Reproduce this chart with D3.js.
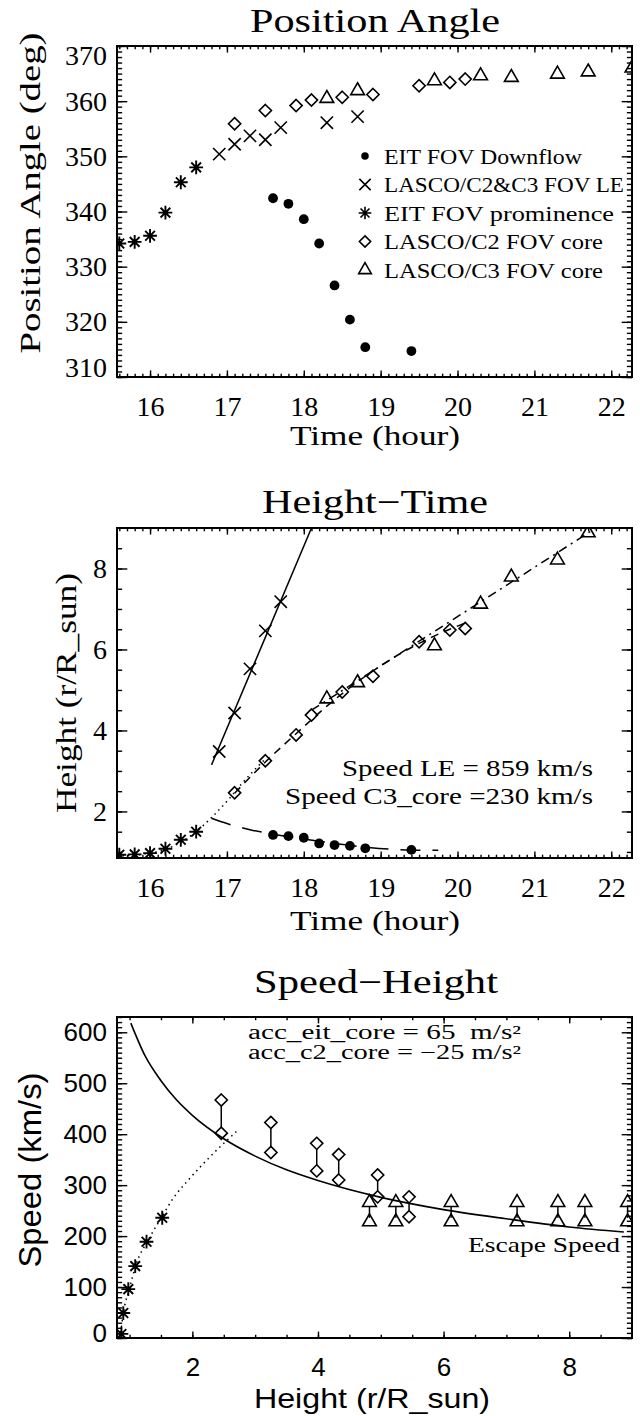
<!DOCTYPE html>
<html lang="en">
  <head>
    <meta charset="UTF-8" />
    <title>CME kinematics</title>
    <style>
      body { margin: 0; background: #fff; }
      svg { display: block; }
    </style>
  </head>
  <body>
    <svg id="chart" width="640" height="1416"></svg>
    <script src="https://cdn.jsdelivr.net/npm/d3@7"></script>
    <script>
      // ---- panel 1: position angle (deg) vs time (hour)
      const timeDown = [17.6, 17.8, 18.0, 18.2, 18.4, 18.6, 18.8, 19.4];
      const paDown = [342.4, 341.4, 338.6, 334.2, 326.6, 320.4, 315.4, 314.7];
      const timeLE = [16.9, 17.1, 17.3, 17.5, 17.7, 18.3, 18.7];
      const paLE = [350.4, 352.2, 353.7, 353.0, 355.2, 356.1, 357.2];
      const timeProm = [15.6, 15.8, 16.0, 16.2, 16.4, 16.6];
      const paProm = [334.2, 334.5, 335.6, 339.8, 345.3, 348.0];
      const timeC2 = [17.1, 17.5, 17.9, 18.1, 18.5, 18.9, 19.5, 19.9, 20.1];
      const paC2 = [355.9, 358.3, 359.2, 360.2, 360.7, 361.2, 362.8, 363.4, 364.0];
      const timeC3 = [18.3, 18.7, 19.7, 20.3, 20.7, 21.3, 21.7, 22.27];
      const paC3 = [360.5, 361.9, 363.7, 364.6, 364.3, 364.9, 365.3, 366.0];
      const legendLabels = ['EIT FOV Downflow', 'LASCO/C2&C3 FOV LE', 'EIT FOV prominence', 'LASCO/C2 FOV core', 'LASCO/C3 FOV core'];

      // ---- panel 2: height (r/R_sun) vs time
      const hDown = [1.42, 1.39, 1.35, 1.21, 1.17, 1.15, 1.09, 1.05];
      const hLE = [3.48, 4.43, 5.52, 6.46, 7.18, 10.9, 12.7];
      const hProm = [0.93, 0.94, 0.97, 1.08, 1.3, 1.5];
      const hC2 = [2.46, 3.25, 3.89, 4.38, 4.95, 5.34, 6.19, 6.48, 6.52];
      const hC3 = [4.78, 5.18, 6.09, 7.12, 7.79, 8.21, 8.88, 9.6];
      const fitLE_t = [16.8, 18.1];
      const fitLE_h = [3.15, 9.0];
      const fitEit_t = [15.57, 15.8, 16.0, 16.2, 16.4, 16.6, 16.8, 17.0, 17.2, 17.5];
      const fitEit_h = [0.9, 0.92, 0.97, 1.06, 1.24, 1.5, 1.85, 2.25, 2.7, 3.3];
      const fitC2_t = [17.1, 17.5, 17.9, 18.3, 18.7, 19.1, 19.5, 19.9, 20.1];
      const fitC2_h = [2.45, 3.22, 3.92, 4.6, 5.2, 5.72, 6.15, 6.5, 6.65];
      const fitC3_t = [18.1, 21.8];
      const fitC3_h = [4.5, 9.0];
      const fitDown_t = [16.8, 17.0, 17.3, 17.6, 18.0, 18.4, 18.8, 19.2, 19.5, 19.75];
      const fitDown_h = [1.83, 1.7, 1.55, 1.44, 1.32, 1.21, 1.12, 1.06, 1.04, 1.04];

      // ---- panel 3: speed (km/s) vs height
      const hPromS = [0.87, 0.9, 0.98, 1.09, 1.27, 1.52];
      const vPromS = [8, 49, 96, 141, 189, 236];
      const hC2S = [2.46, 3.25, 3.98, 4.33, 4.95, 5.45];
      const vC2Top = [467, 423, 382, 360, 320, 277];
      const vC2Bot = [402, 364, 328, 310, 277, 238];
      const hC3S = [4.82, 5.24, 6.12, 7.17, 7.82, 8.25, 8.93];
      const vC3Top = [266, 266, 266, 266, 266, 266, 266];
      const vC3Bot = [228, 228, 228, 228, 228, 228, 228];
      const escH = [1.02, 1.25, 1.5, 1.75, 2.0, 2.5, 3.0, 3.5, 4.0, 5.0, 6.0, 7.0, 8.0, 8.87];
      const escV = [618, 553, 505, 467, 437, 391, 357, 330, 309, 276, 252, 234, 218, 208];
      const eitSpeedH = [0.85, 0.9, 1.0, 1.1, 1.3, 1.5, 1.7, 1.95, 2.3, 2.7];
      const eitSpeedV = [0, 48, 98, 143, 193, 235, 275, 312, 358, 405];

      const timeTicks = [16, 17, 18, 19, 20, 21, 22];
      const paTicks = [310, 320, 330, 340, 350, 360, 370];
      const heightTicks = [2, 4, 6, 8];
      const speedTicks = [0, 100, 200, 300, 400, 500, 600];

      const serif = '"Liberation Serif", "Times New Roman", serif';
      const sans = '"Liberation Sans", Arial, sans-serif';
      const svg = d3.select('#chart');
      svg.append('rect').attr('width', 640).attr('height', 1416).attr('fill', '#fff');

      const star = {
        draw(ctx, size) {
          const r = Math.sqrt(size) / 2, d = r * 0.7071;
          ctx.moveTo(-r, 0); ctx.lineTo(r, 0);
          ctx.moveTo(0, -r); ctx.lineTo(0, r);
          ctx.moveTo(-d, -d); ctx.lineTo(d, d);
          ctx.moveTo(-d, d); ctx.lineTo(d, -d);
        },
      };
      const SYM = {
        dot: { type: d3.symbolCircle, size: 75, fill: true },
        cross: { type: d3.symbolTimes, size: 100 },
        star: { type: star, size: 190 },
        diamond: { type: d3.symbolDiamond2, size: 95 },
        tri: { type: d3.symbolTriangle2, size: 135 },
      };

      function txt(g, s, x, y, o) {
        const t = g.append('text')
          .attr('x', x).attr('y', y)
          .attr('font-family', o.family || serif)
          .attr('font-size', o.size)
          .attr('text-anchor', o.anchor || 'middle')
          .attr('xml:space', 'preserve')
          .text(s);
        if (o.len) t.attr('textLength', o.len).attr('lengthAdjust', 'spacingAndGlyphs');
        if (o.rotate) t.attr('transform', `rotate(-90,${x},${y})`);
        return t;
      }

      function panel(o) {
        const x = d3.scaleLinear().domain(o.xDomain).range([117, 632]);
        const y = d3.scaleLinear().domain(o.yDomain).range([o.bottom, o.top]);
        const g = svg.append('g');
        const w = 515, h = o.bottom - o.top;
        const xLen = 0.02 * h, yLen = 0.02 * w;

        const clipId = 'clip-' + o.name;
        svg.append('clipPath').attr('id', clipId).append('rect')
          .attr('x', 117).attr('y', o.top).attr('width', w).attr('height', h);

        const style = (sel) => {
          sel.select('.domain').remove();
          sel.selectAll('line').attr('stroke-width', 1.4);
          sel.selectAll('text').attr('font-family', o.tickFont).attr('font-size', o.tickSize);
        };
        g.append('g').attr('transform', `translate(0,${o.bottom})`)
          .call(d3.axisBottom(x).tickValues(o.xTicks).tickSizeInner(-xLen).tickSizeOuter(0)
            .tickPadding(o.xPad).tickFormat(d3.format('d')))
          .call(style);
        g.append('g').attr('transform', `translate(0,${o.bottom})`)
          .call(d3.axisBottom(x).tickValues(o.xMinor).tickSizeInner(-xLen / 2).tickSizeOuter(0).tickFormat(''))
          .call(style);
        g.append('g').attr('transform', `translate(0,${o.top})`)
          .call(d3.axisTop(x).tickValues(o.xTicks).tickSizeInner(-xLen).tickSizeOuter(0).tickFormat(''))
          .call(style);
        g.append('g').attr('transform', `translate(0,${o.top})`)
          .call(d3.axisTop(x).tickValues(o.xMinor).tickSizeInner(-xLen / 2).tickSizeOuter(0).tickFormat(''))
          .call(style);
        const yl = g.append('g').attr('transform', 'translate(117,0)')
          .call(d3.axisLeft(y).tickValues(o.yTicks).tickSizeInner(-yLen).tickSizeOuter(0)
            .tickPadding(10).tickFormat(d3.format('d')))
          .call(style);
        // end labels sit a little inside the frame, as in the original
        yl.selectAll('.tick text').attr('transform', (d) => (o.yNudge && o.yNudge[d] ? `translate(0,${o.yNudge[d]})` : null));
        g.append('g').attr('transform', 'translate(117,0)')
          .call(d3.axisLeft(y).tickValues(o.yMinor).tickSizeInner(-yLen / 2).tickSizeOuter(0).tickFormat(''))
          .call(style);
        g.append('g').attr('transform', 'translate(632,0)')
          .call(d3.axisRight(y).tickValues(o.yTicks).tickSizeInner(-yLen).tickSizeOuter(0).tickFormat(''))
          .call(style);
        g.append('g').attr('transform', 'translate(632,0)')
          .call(d3.axisRight(y).tickValues(o.yMinor).tickSizeInner(-yLen / 2).tickSizeOuter(0).tickFormat(''))
          .call(style);
        g.append('rect').attr('x', 117).attr('y', o.top).attr('width', w).attr('height', h)
          .attr('fill', 'none').attr('stroke', '#000').attr('stroke-width', 2);

        const data = g.append('g').attr('clip-path', `url(#${clipId})`);
        return { x, y, g, data };
      }

      function marks(p, xs, ys, key) {
        const s = SYM[key];
        p.data.append('g').selectAll('path')
          .data(xs.map((v, i) => [v, ys[i]]))
          .join('path')
          .attr('transform', (d) => `translate(${p.x(d[0])},${p.y(d[1])})`)
          .attr('d', d3.symbol(s.type, s.size))
          .attr('fill', s.fill ? '#000' : 'none')
          .attr('stroke', s.fill ? 'none' : '#000')
          .attr('stroke-width', key === 'star' ? 1.9 : 1.6);
      }

      function curve(p, xs, ys, dash, width) {
        p.data.append('path')
          .datum(xs.map((v, i) => [v, ys[i]]))
          .attr('d', d3.line().x((d) => p.x(d[0])).y((d) => p.y(d[1])).curve(d3.curveMonotoneX))
          .attr('fill', 'none').attr('stroke', '#000')
          .attr('stroke-width', width || 1.5)
          .attr('stroke-dasharray', dash || null);
      }

      const timeMinor = d3.range(156, 223).map((v) => v / 10);

      // ---------- Position Angle
      const p1 = panel({
        name: 'pa', top: 46, bottom: 377,
        xDomain: [15.57, 22.27], yDomain: [310, 370],
        xTicks: timeTicks, xMinor: timeMinor, xPad: 19,
        yTicks: paTicks, yMinor: d3.range(310, 371),
        yNudge: { 370: 10, 310: -9 }, tickFont: serif, tickSize: 28,
      });
      marks(p1, timeDown, paDown, 'dot');
      marks(p1, timeLE, paLE, 'cross');
      marks(p1, timeProm, paProm, 'star');
      marks(p1, timeC2, paC2, 'diamond');
      marks(p1, timeC3, paC3, 'tri');
      txt(svg, 'Position Angle', 375, 32, { size: 33, len: 250 });
      txt(svg, 'Time (hour)', 375, 445, { size: 28, len: 170 });
      txt(svg, 'Position Angle (deg)', 40, 193, { size: 29, len: 321, rotate: true });
      const legKeys = ['dot', 'cross', 'star', 'diamond', 'tri'];
      const leg = svg.append('g');
      legendLabels.forEach((lab, i) => {
        const cy = 156 + i * 28.5;
        const s = SYM[legKeys[i]];
        leg.append('path')
          .attr('transform', `translate(365,${cy})`)
          .attr('d', d3.symbol(s.type, legKeys[i] === 'dot' ? 45 : s.size * 0.85))
          .attr('fill', s.fill ? '#000' : 'none')
          .attr('stroke', s.fill ? 'none' : '#000')
          .attr('stroke-width', 1.6);
        txt(leg, lab, 384, cy + 7.5, { size: 22, anchor: 'start', len: [198, 240, 230, 219, 219][i] });
      });

      // ---------- Height-Time
      const p2 = panel({
        name: 'ht', top: 528, bottom: 858,
        xDomain: [15.57, 22.27], yDomain: [0.85, 9.0],
        xTicks: timeTicks, xMinor: timeMinor, xPad: 19,
        yTicks: heightTicks, yMinor: d3.range(2, 18).map((v) => v / 2),
        tickFont: serif, tickSize: 28,
      });
      curve(p2, fitLE_t, fitLE_h);
      curve(p2, fitEit_t, fitEit_h, '1.5,4');
      curve(p2, fitC2_t, fitC2_h, '8,6');
      curve(p2, fitC3_t, fitC3_h, '9,5,2,5');
      curve(p2, fitDown_t, fitDown_h, '20,12');
      marks(p2, timeDown, hDown, 'dot');
      marks(p2, timeLE, hLE, 'cross');
      marks(p2, timeProm, hProm, 'star');
      marks(p2, timeC2, hC2, 'diamond');
      marks(p2, timeC3, hC3, 'tri');
      txt(svg, 'Height\u2212Time', 375, 513, { size: 33, len: 226 });
      txt(svg, 'Time (hour)', 375, 930, { size: 28, len: 170 });
      txt(svg, 'Height (r/R_sun)', 76, 693, { size: 29, len: 240, rotate: true });
      txt(svg, 'Speed LE = 859 km/s', 593, 776, { size: 23, anchor: 'end', len: 251 });
      txt(svg, 'Speed C3_core =230 km/s', 593, 804, { size: 23, anchor: 'end', len: 308 });

      // ---------- Speed-Height
      const p3 = panel({
        name: 'sh', top: 1017, bottom: 1338,
        xDomain: [0.8, 9.0], yDomain: [0, 630],
        xTicks: heightTicks, xMinor: d3.range(2, 18).map((v) => v / 2), xPad: 20,
        yTicks: speedTicks, yMinor: d3.range(0, 64).map((v) => v * 10),
        yNudge: { 0: -5 }, tickFont: sans, tickSize: 26,
      });
      curve(p3, escH, escV, null, 1.6);
      curve(p3, eitSpeedH, eitSpeedV, '1.5,4');
      // vertical bars joining the two speed estimates
      const bars = (hs, tops, bots, r) => {
        p3.data.append('g').selectAll('line')
          .data(hs.map((v, i) => [v, tops[i], bots[i]]))
          .join('line')
          .attr('x1', (d) => p3.x(d[0])).attr('x2', (d) => p3.x(d[0]))
          .attr('y1', (d) => p3.y(d[1]) + r).attr('y2', (d) => p3.y(d[2]) - r)
          .attr('stroke', '#000').attr('stroke-width', 1.5);
      };
      bars(hC2S, vC2Top, vC2Bot, 6);
      bars(hC3S, vC3Top, vC3Bot, 4);
      marks(p3, hPromS, vPromS, 'star');
      marks(p3, hC2S, vC2Top, 'diamond');
      marks(p3, hC2S, vC2Bot, 'diamond');
      marks(p3, hC3S, vC3Top, 'tri');
      marks(p3, hC3S, vC3Bot, 'tri');
      txt(svg, 'Speed\u2212Height', 376, 993, { size: 33, len: 244 });
      txt(svg, 'acc_eit_core = 65  m/s\u00b2', 248, 1039, { size: 20, anchor: 'start', len: 273 });
      txt(svg, 'acc_c2_core = \u221225 m/s\u00b2', 248, 1059, { size: 20, anchor: 'start', len: 273 });
      txt(svg, 'Escape Speed', 620, 1252, { size: 22, anchor: 'end', len: 152 });
      txt(svg, 'Speed (km/s)', 41, 1170, { size: 31, family: sans, len: 195, rotate: true });
      txt(svg, 'Height (r/R_sun)', 372, 1408, { size: 28, family: sans, len: 236 });
    </script>
  </body>
</html>
